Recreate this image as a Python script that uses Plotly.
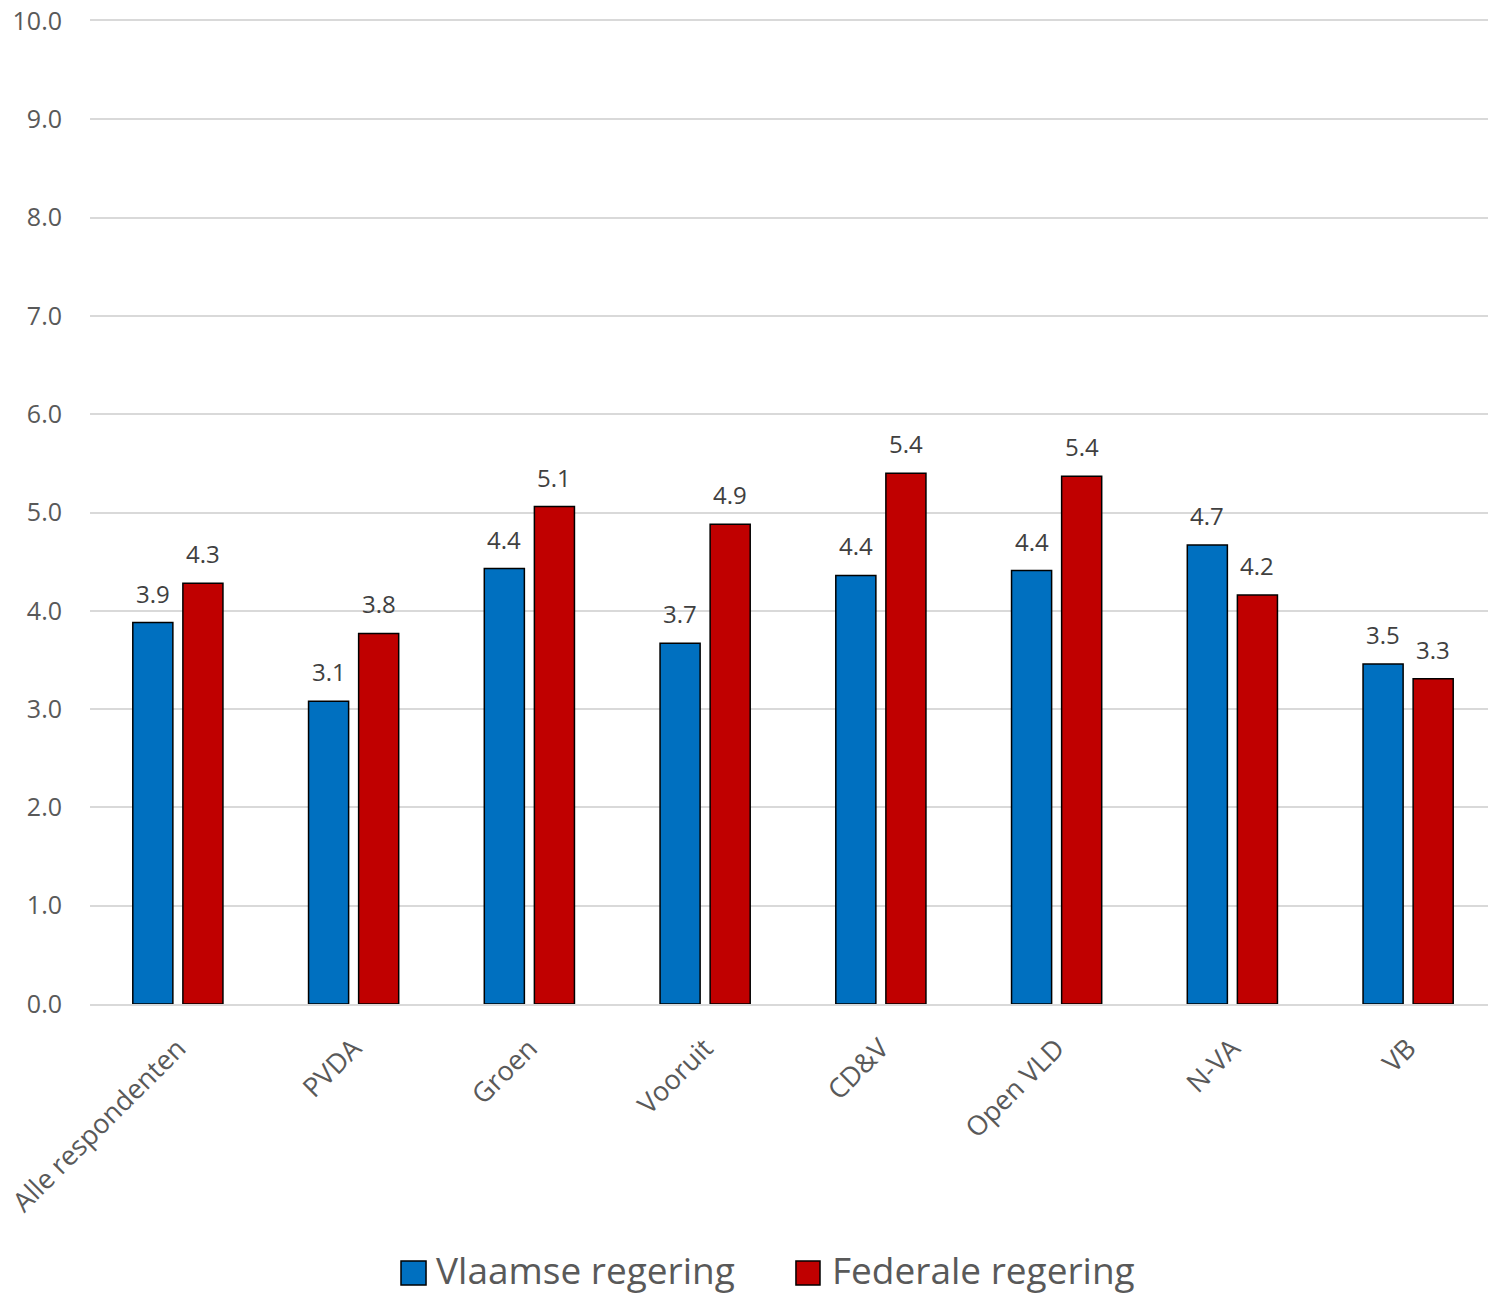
import plotly.graph_objects as go

categories = ["Alle respondenten", "PVDA", "Groen", "Vooruit", "CD&V", "Open VLD", "N-VA", "VB"]
series_names = ["Vlaamse regering", "Federale regering"]
vlaamse = [3.88, 3.08, 4.43, 3.67, 4.36, 4.41, 4.67, 3.46]
federale = [4.28, 3.77, 5.06, 4.88, 5.40, 5.37, 4.16, 3.31]
colors = ["#0070C0", "#C00000"]

font_family = "Open Sans"
fig = go.Figure()
for name, vals, col in zip(series_names, [vlaamse, federale], colors):
    fig.add_trace(go.Bar(
        x=categories, y=vals, name=name,
        marker=dict(color=col, line=dict(color="#000000", width=1.5)),
        showlegend=False,
    ))

# data labels above bars
offsets = [-25, 25]
for vals, dx in zip([vlaamse, federale], offsets):
    for c, v in zip(categories, vals):
        fig.add_annotation(x=c, y=v, text=f"{v:.1f}", showarrow=False,
                           xshift=dx, yshift=11, yanchor="bottom",
                           font=dict(size=24, color="#404040", family=font_family))

# custom legend (large square markers like the reference)
legend_items = [
    (series_names[0], colors[0], 0.2212, 0.2390, 0.2450),
    (series_names[1], colors[1], 0.5021, 0.5192, 0.5260),
]
for name, col, x0, x1, xt in legend_items:
    fig.add_shape(type="rect", xref="paper", yref="paper", x0=x0, x1=x1,
                  y0=-0.2859, y1=-0.2614, fillcolor=col,
                  line=dict(color="#000000", width=1.5))
    fig.add_annotation(xref="paper", yref="paper", x=xt, y=-0.2700,
                       xanchor="left", yanchor="middle", text=name, showarrow=False,
                       font=dict(size=37, color="#595959", family=font_family))

# page body has an 8px margin: size the figure so the plot lands where the reference's does
fig.update_layout(
    width=1488, height=1285,
    margin=dict(l=82, r=0, t=13, b=289, autoexpand=False),
    paper_bgcolor="white", plot_bgcolor="white",
    barmode="group", bargap=0.43, bargroupgap=0.2,
    font=dict(family=font_family, color="#595959"),
    showlegend=False,
)
fig.update_yaxes(range=[0, 10], dtick=1, tickformat=".1f", automargin=False,
                 showgrid=True, gridcolor="#D9D9D9", gridwidth=1.5,
                 zeroline=False, showline=False, ticklabeloverflow="allow",
                 tickfont=dict(size=25, color="#595959"), ticklabelstandoff=27)
fig.update_xaxes(tickangle=-45, showline=True, linecolor="#D9D9D9", linewidth=1.5,
                 mirror=True, automargin=False, ticklabelstandoff=16,
                 tickfont=dict(size=27, color="#595959"))
fig.write_html("out.html")
